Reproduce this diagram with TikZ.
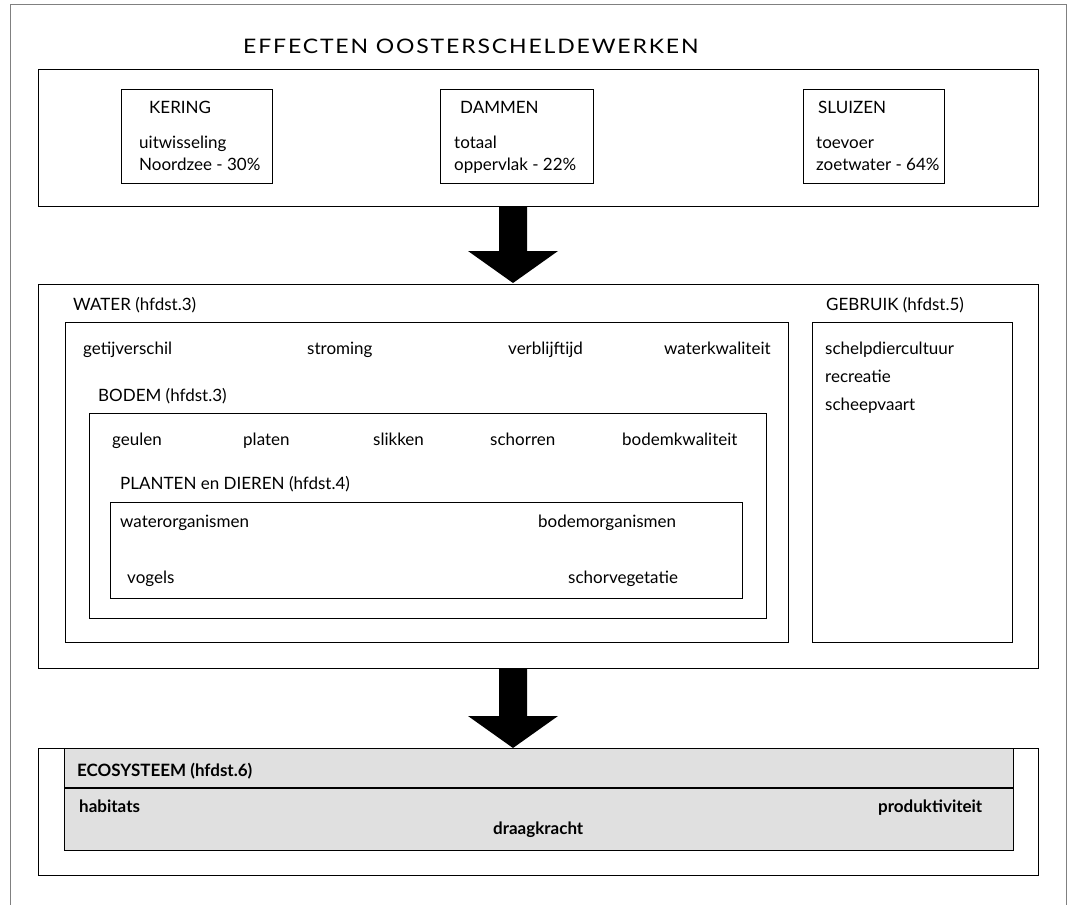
\documentclass[tikz,border=0pt]{standalone}
\usepackage{fontspec}
\setmainfont{Lato}
\usepackage{tikz}
\usetikzlibrary{calc}
\usetikzlibrary{positioning}

\begin{document}
\begin{tikzpicture}
		[x=1pt, y=-1pt,
		font=\fontsize{17}{20}\selectfont
		]
		
		% Styles: frames and texts
		\tikzstyle{kader}=[draw,line width=1.3pt,anchor=north west,inner sep=0];
		\tikzstyle{kop}=[anchor=base west,inner sep=0];
		\tikzstyle{item}=[anchor=base west,inner sep=0];
		\tikzstyle{vet}=[anchor=base west,inner sep=0,font=\fontsize{17}{20}\selectfont\bfseries];
		
		\useasboundingbox (0,0) rectangle (1072,905);
		% Page frame
		\draw[gray,line width=0.8pt] (10,905) -- (10,4) -- (1066,4) -- (1066,905);
		
		% Effecten
		\node[kop,font=\fontsize{20}{22}\selectfont\addfontfeature{LetterSpace=8}] (titel) at (243,53) {\scalebox{1.15}[1]{EFFECTEN OOSTERSCHELDEWERKEN}};
		\node[kader,minimum width=1000pt,minimum height=137pt] (effecten) at (38,69) {};
		\node[kader,minimum width=151pt,minimum height=94pt] (kering) at (121,89) {};
		\node[kader,minimum width=153pt,minimum height=94pt] (dammen) at (440,89) {};
		\node[kader,minimum width=141pt,minimum height=94pt] (sluizen) at (803,89) {};
		\node[kop] (kering-t) at (149,113) {KERING};
		\node[item] (kering-1) at (139,148) {uitwisseling};
		\node[item] (kering-2) at (139,170) {Noordzee - 30\%};
		\node[kop] (dammen-t) at (460,113) {DAMMEN};
		\node[item] (dammen-1) at (454,148) {totaal};
		\node[item] (dammen-2) at (454,170) {oppervlak - 22\%};
		\node[kop] (sluizen-t) at (818,113) {SLUIZEN};
		\node[item] (sluizen-1) at (816,148) {toevoer};
		\node[item] (sluizen-2) at (816,170) {zoetwater - 64\%};
		
		% Water, bodem, planten en dieren, gebruik
		\node[kader,minimum width=1000pt,minimum height=384pt] (midden) at (38,284) {};
		\node[kop] (water-t) at (73,310) {WATER (hfdst.3)};
		\node[kader,minimum width=723pt,minimum height=320pt] (water) at (65,322) {};
		\node[item] (getij) at (83,354) {getijverschil};
		\node[item] (stroming) at (307,354) {stroming};
		\node[item] (verblijf) at (508,354) {verblijftijd};
		\node[item] (wkwal) at (664,354) {waterkwaliteit};
		\node[kop] (bodem-t) at (98,401) {BODEM (hfdst.3)};
		\node[kader,minimum width=677pt,minimum height=205pt] (bodem) at (89,413) {};
		\node[item] (geulen) at (112,445) {geulen};
		\node[item] (platen) at (243,445) {platen};
		\node[item] (slikken) at (373,445) {slikken};
		\node[item] (schorren) at (490,445) {schorren};
		\node[item] (bkwal) at (622,445) {bodemkwaliteit};
		\node[kop] (planten-t) at (120,489) {PLANTEN en DIEREN (hfdst.4)};
		\node[kader,minimum width=632pt,minimum height=96pt] (planten) at (110,502) {};
		\node[item] (worg) at (120,527) {waterorganismen};
		\node[item] (borg) at (538,527) {bodemorganismen};
		\node[item] (vogels) at (127,583) {vogels};
		\node[item] (schorveg) at (568,583) {schorvegetatie};
		\node[kop] (gebruik-t) at (826,310) {GEBRUIK (hfdst.5)};
		\node[kader,minimum width=200pt,minimum height=320pt] (gebruik) at (812,322) {};
		\node[item] (schelp) at (825,354) {schelpdiercultuur};
		\node[item] (recreatie) at (825,382) {recreatie};
		\node[item] (scheep) at (825,410) {scheepvaart};
		
		% Ecosysteem
		\node[kader,minimum width=1000pt,minimum height=127pt] (onder) at (38,748) {};
		\node[kader,fill=black!12,minimum width=949pt,minimum height=102pt] (eco) at (64,748) {};
		\draw[line width=1.3pt] ($(eco.north west)+(0,40)$) -- ($(eco.north east)+(0,40)$);
		\node[vet] (eco-t) at (77,776) {ECOSYSTEEM (hfdst.6)};
		\node[vet] (habitats) at (79,812) {habitats};
		\node[vet] (draag) at (493,834) {draagkracht};
		\node[vet] (produk) at (878,812) {produktiviteit};
		
		% Block arrows
		\coordinate (p1a) at (513,206);
		\coordinate (p1b) at (513,283);
		\coordinate (p2a) at (513,668);
		\coordinate (p2b) at (513,748);
		\foreach \a/\b in {p1a/p1b, p2a/p2b}
		\fill ($(\a)+(-14,0)$) -- ($(\a)+(14,0)$) -- ($(\b)+(14,-32)$) -- ($(\b)+(45,-32)$)
		-- (\b) -- ($(\b)+(-45,-32)$) -- ($(\b)+(-14,-32)$) -- cycle;
		\end{tikzpicture}
\end{document}
